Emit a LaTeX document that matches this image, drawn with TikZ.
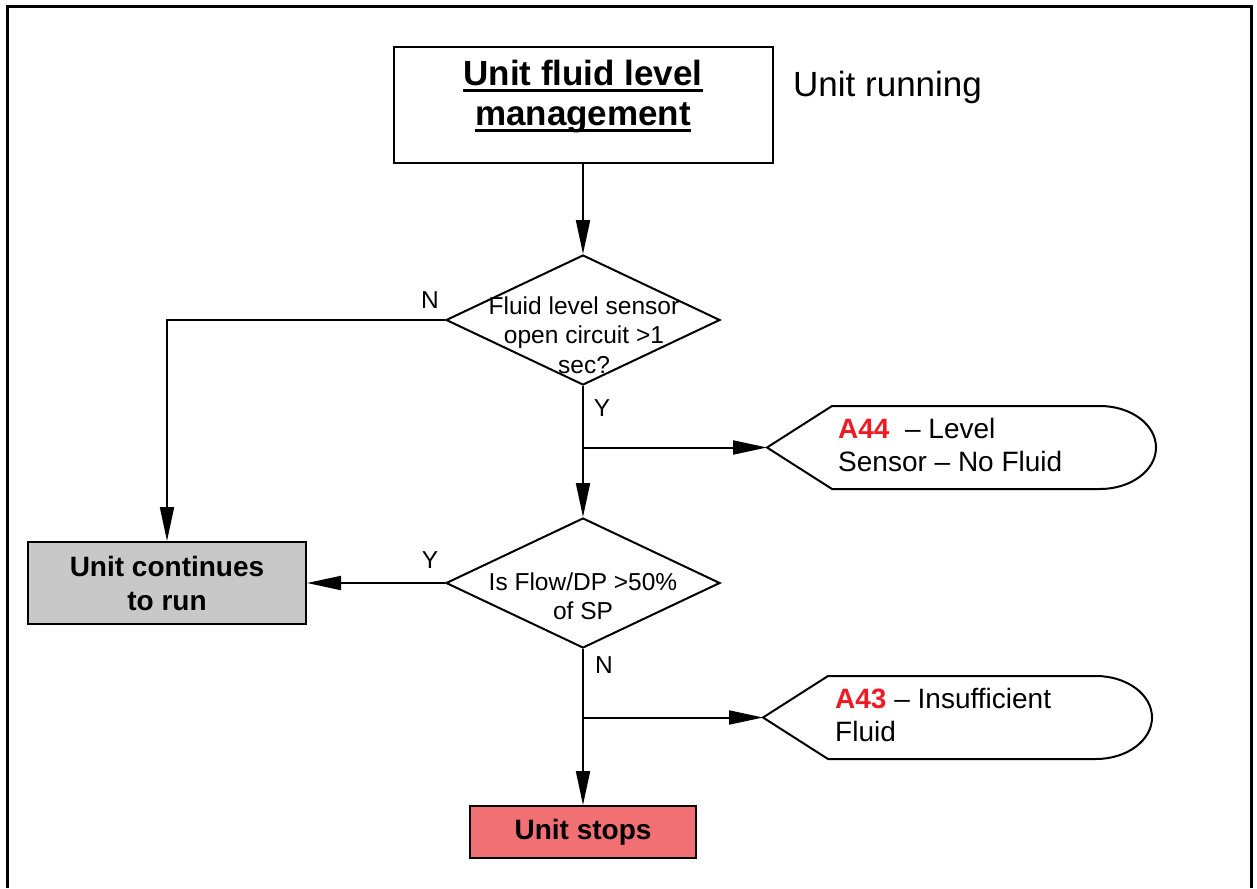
\documentclass[tikz,border=0pt]{standalone}
\usepackage{fontspec}
\setmainfont{Liberation Sans}
\usepackage[usenames,dvipsnames]{xcolor}
\usepackage{tikz}
\usetikzlibrary{arrows.meta,shapes.geometric}

\definecolor{boxgrey}{RGB}{200,200,200}
\definecolor{stopred}{RGB}{240,112,116}
\definecolor{alarmred}{RGB}{237,28,36}
\newcommand{\ulword}[1]{\setbox0\hbox{#1}\rlap{\rule[-6pt]{\wd0}{2.5pt}}\box0}

\begin{document}
\begin{tikzpicture}[x=1pt,y=-1pt]
            \useasboundingbox (0,0) rectangle (1257,888);
            \draw [line width=3pt] (7,888) -- (7,7) -- (1251,7) -- (1251,888);

            \begin{scope}[every node/.style={rectangle,draw,line width=2pt,align=center,inner sep=0pt,
                          font=\bfseries\fontsize{28}{34}\selectfont}]
                \node [minimum width=379,minimum height=116,text depth=24pt,
                       font=\bfseries\fontsize{35}{40}\selectfont] (title) at (583,105)
                      {\ulword{Unit fluid level}\\\ulword{management}};
                \node [fill=boxgrey,minimum width=278,minimum height=82] (cont) at (167,583) {Unit continues\\to run};
                \node [fill=stopred,minimum width=226,minimum height=52] (stop) at (583,832) {Unit stops};
            \end{scope}

            \node [anchor=west,inner sep=0pt,font=\fontsize{35}{40}\selectfont] (run) at (793,87) {Unit running};

            \begin{scope}[every node/.style={diamond,draw,line width=2pt,minimum width=274,minimum height=130,inner sep=0pt}]
                \node (d1) at (583,320) {};
                \node (d2) at (583,583) {};
            \end{scope}

            \begin{scope}[every node/.style={align=center,inner sep=0pt,font=\fontsize{24.5}{29.5}\selectfont}]
                \node (q1) at (584,335) {Fluid level sensor\\open circuit >1\\sec?};
                \node (q2) at (583,596) {Is Flow/DP >50\%\\of SP};
                \node (n1) at (430,300) {N};
                \node (y1) at (602,408) {Y};
                \node (y2) at (430,560) {Y};
                \node (n2) at (604,665) {N};
            \end{scope}

            % alarm displays
            \coordinate (tip44) at (767,447.5);
            \coordinate (tip43) at (763,717.5);
            \draw [line width=2pt] (tip44) -- (832,406) -- (1100,406)
                  arc [start angle=-90,end angle=90,x radius=56,y radius=41.5] -- (832,489) -- cycle;
            \draw [line width=2pt] (tip43) -- (828,676) -- (1096,676)
                  arc [start angle=-90,end angle=90,x radius=56,y radius=41.5] -- (828,759) -- cycle;
            \begin{scope}[every node/.style={anchor=west,align=left,inner sep=0pt,font=\fontsize{28}{33}\selectfont}]
                \node (a44) at (838,445) {\textcolor{alarmred}{\bfseries A44}\ \ – Level\\Sensor – No Fluid};
                \node (a43) at (835,715) {\textcolor{alarmred}{\bfseries A43} – Insufficient\\Fluid};
            \end{scope}

            \coordinate (b1) at (583,447.5);
            \coordinate (b2) at (583,717.5);

            \begin{scope}[>={Triangle[length=34pt,width=14pt]},
                          every edge/.style={draw=black,line width=2pt}]
                \path [->] (title) edge (d1);
                \path [->] (d1) edge (d2);
                \path [->] (d2) edge (stop);
                \path [->] (d2.west) edge (cont.east);
                \path [->] (b1) edge (tip44);
                \path [->] (b2) edge (tip43);
                \draw [->,line width=2pt] (d1.west) -| (cont.north);
            \end{scope}
\end{tikzpicture}
\end{document}
